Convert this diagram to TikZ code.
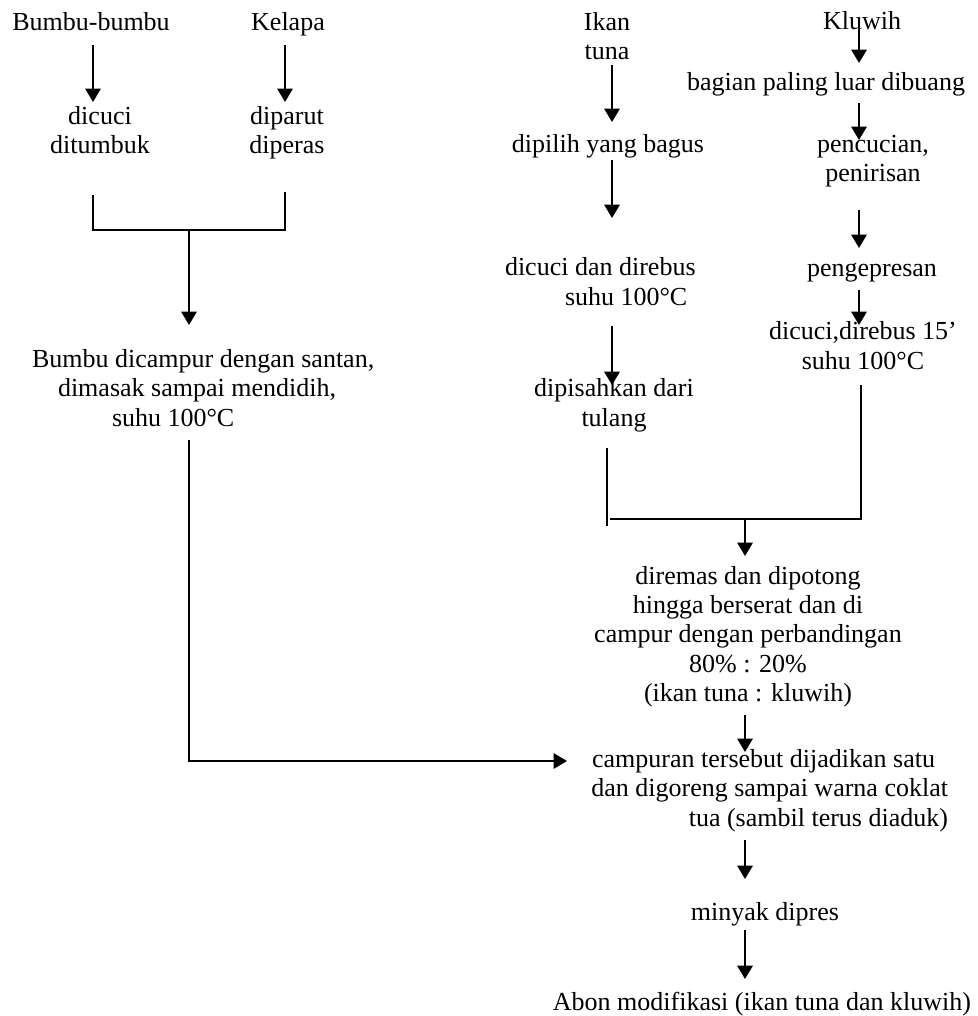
\documentclass[tikz,border=0pt]{standalone}
\usepackage{fontspec}
\setmainfont{Liberation Serif}
\usetikzlibrary{arrows.meta,calc}
\newcommand{\stepfont}{\fontsize{19.5pt}{22pt}\selectfont}
\tikzset{
  >={Triangle[length=10pt,width=11.5pt]},
  stp/.style ={inner sep=0pt, outer sep=0pt, font=\stepfont, align=center},
  stpl/.style={stp, align=left},
  stpr/.style={stp, align=right},
  flow/.style={->, draw, line width=1.5pt},
  joinl/.style={draw, line width=1.5pt},
}

\begin{document}
\begin{tikzpicture}[x=0.75pt,y=-0.75pt]
\useasboundingbox (0,0) rectangle (977,1016);

% --- bumbu and kelapa branch (base = last line) ---------------------
\node[stp,anchor=base]  (bumbu)  at (91,31)   {Bumbu-bumbu};
\node[stp,anchor=base]  (kelapa) at (288,31)  {Kelapa};
\node[stp,anchor=base]  (cuci)   at (100,154) {dicuci\\ditumbuk};
\node[stp,anchor=base]  (parut)  at (287,154) {diparut\\diperas};
\node[stpl,anchor=base west] (campur) at (32,426)
  {Bumbu dicampur dengan santan,\\
   \hspace*{19.5pt}dimasak sampai mendidih,\\
   \hspace*{60pt}suhu 100°C};

% --- ikan tuna branch -----------------------------------------------
\node[stp,anchor=base]  (ikan)   at (607,60)  {Ikan\\tuna};
\node[stp,anchor=base]  (pilih)  at (608,153) {dipilih yang bagus};
\node[stpl,anchor=base west] (rebus) at (505,305)
  {dicuci dan direbus\\ \hspace*{45pt}suhu 100°C};
\node[stp,anchor=base]  (pisah)  at (614,426) {dipisahkan dari\\tulang};

% --- kluwih branch --------------------------------------------------
\node[stp,anchor=base]  (kluwih) at (862,30)  {Kluwih};
\node[stp,anchor=base]  (bagian) at (826,91)  {bagian paling luar dibuang};
\node[stp,anchor=base]  (cucian) at (873,182) {pencucian,\\penirisan};
\node[stp,anchor=base]  (press)  at (872,276) {pengepresan};
\node[stp,anchor=base]  (rebusk) at (863,369) {dicuci,direbus 15’\\suhu 100°C};

% --- common steps ---------------------------------------------------
\node[stp,anchor=base]  (remas)  at (748,701.5)
  {diremas dan dipotong\\hingga berserat dan di\\campur dengan perbandingan\\
   80\% : 20\%\\(ikan tuna : kluwih)};
\node[stpr,anchor=base east] (goreng) at (948,826)
  {campuran tersebut dijadikan satu\hspace*{9.75pt}\\
   dan digoreng sampai warna coklat\hspace*{2.25pt}\\
   tua (sambil terus diaduk)};
\node[stp,anchor=base]  (minyak) at (765,920)  {minyak dipres};
\node[stp,anchor=base]  (abon)   at (762,1010) {Abon modifikasi (ikan tuna dan kluwih)};

\coordinate (jl) at (189,230);
\coordinate (jr) at (745,519);

% --- flow: bumbu and kelapa -----------------------------------------
\draw[flow] ($(bumbu.base)+(2,14)$)  -- ($(cuci.base)+(-7,-52)$);
\draw[flow] ($(kelapa.base)+(-3,14)$) -- ($(parut.base)+(-2,-52)$);
\draw[joinl] ($(cuci.base)+(-7,41)$) |- (jl) -| ($(parut.base)+(-2,38)$);
\draw[flow] (jl) -- ($(campur.base west)+(157,-101)$);
\draw[flow] ($(campur.base west)+(157,14)$) |- ($(goreng.base east)+(-381,-65)$);

% --- flow: ikan tuna ------------------------------------------------
\draw[flow] ($(ikan.base)+(5,5)$)   -- ($(pilih.base)+(4,-31)$);
\draw[flow] ($(pilih.base)+(4,7)$)  -- ($(rebus.base west)+(107,-87)$);
\draw[flow] ($(rebus.base west)+(107,21)$) -- ($(pisah.base)+(-2,-41)$);

% --- flow: kluwih ---------------------------------------------------
\draw[flow] ($(kluwih.base)+(-3,-3)$) -- ($(bagian.base)+(33,-28)$);
\draw[flow] ($(bagian.base)+(33,12)$) -- ($(cucian.base)+(-14,-42)$);
\draw[flow] ($(cucian.base)+(-14,28)$) -- ($(press.base)+(-13,-28)$);
\draw[flow] ($(press.base)+(-13,14)$) -- ($(rebusk.base)+(-4,-44)$);

% --- merge and final steps ------------------------------------------
\draw[joinl] ($(pisah.base)+(-7,22)$) -- ++(0,78);
\draw[joinl] ($(pisah.base)+(-4,93)$) -- (jr) -| ($(rebusk.base)+(-2,16)$);
\draw[flow] (jr) -- ($(remas.base)+(-3,-145.5)$);
\draw[flow] ($(remas.base)+(-3,13.5)$) -- ($(goreng.base east)+(-203,-74)$);
\draw[flow] ($(goreng.base east)+(-203,14)$) -- ($(minyak.base)+(-20,-41)$);
\draw[flow] ($(minyak.base)+(-20,10)$) -- ($(abon.base)+(-17,-31)$);
\end{tikzpicture}
\end{document}
